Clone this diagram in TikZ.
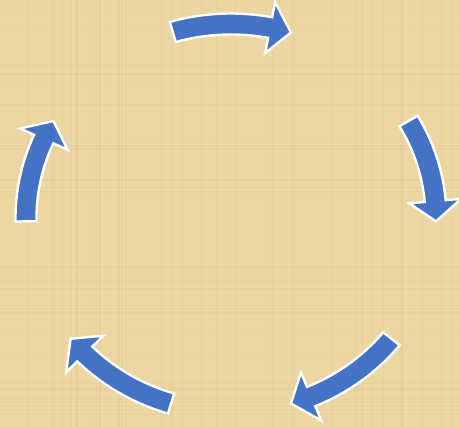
\documentclass[tikz,border=0pt]{standalone}
\usepackage{xcolor}
\definecolor{papyrus}{RGB}{236,215,164}
\definecolor{fibre}{RGB}{200,172,115}
\definecolor{cycblue}{RGB}{68,114,196}
\tikzset{
  cyc/.style   ={fill=cycblue,draw=white,line width=2.4pt,line join=miter},
  weave/.style ={draw=fibre,line width=1.2pt,opacity=0.12},
}
% ellipse of the cycle (pixel units, y down)
\newcommand{\ccx}{231}
\newcommand{\ccy}{218}
\newcommand{\rxa}{205}
\newcommand{\ryb}{194}
\newcommand{\bw}{10.5}
\newcommand{\hw}{26}
% curved block arrow: tail angle, tip angle (clockwise)
\newcommand{\cycarrow}[2]{%
  \pgfmathsetmacro{\hb}{#2+6}
  \filldraw[cyc] plot[domain=#1:\hb,samples=40] ({\ccx+(\rxa+\bw)*cos(\x)},{\ccy-(\ryb+\bw)*sin(\x)})
    -- ({\ccx+(\rxa+\hw)*cos(\hb)},{\ccy-(\ryb+\hw)*sin(\hb)})
    -- ({\ccx+\rxa*cos(#2)},{\ccy-\ryb*sin(#2)})
    -- ({\ccx+(\rxa-\hw)*cos(\hb)},{\ccy-(\ryb-\hw)*sin(\hb)})
    -- plot[domain=\hb:#1,samples=40] ({\ccx+(\rxa-\bw)*cos(\x)},{\ccy-(\ryb-\bw)*sin(\x)})
    -- cycle;
}
\begin{document}
\begin{tikzpicture}[x=1pt,y=-1pt]
  \useasboundingbox (0,0) rectangle (459,427);
  \fill[papyrus] (0,0) rectangle (459,427);
  % papyrus fibres
  \pgfmathsetseed{7}
  \foreach \i in {1,...,40} {
    \pgfmathsetmacro{\px}{rnd*459}
    \draw[weave] (\px,0) -- (\px,427);
  }
  \foreach \i in {1,...,36} {
    \pgfmathsetmacro{\py}{rnd*427}
    \draw[weave] (0,\py) -- (459,\py);
  }
  % the five cycle arrows
  \cycarrow{106.5}{73}
  \cycarrow{30}{-1}
  \cycarrow{-38.5}{-73}
  \cycarrow{-107}{-141.5}
  \cycarrow{181}{150}
\end{tikzpicture}
\end{document}
